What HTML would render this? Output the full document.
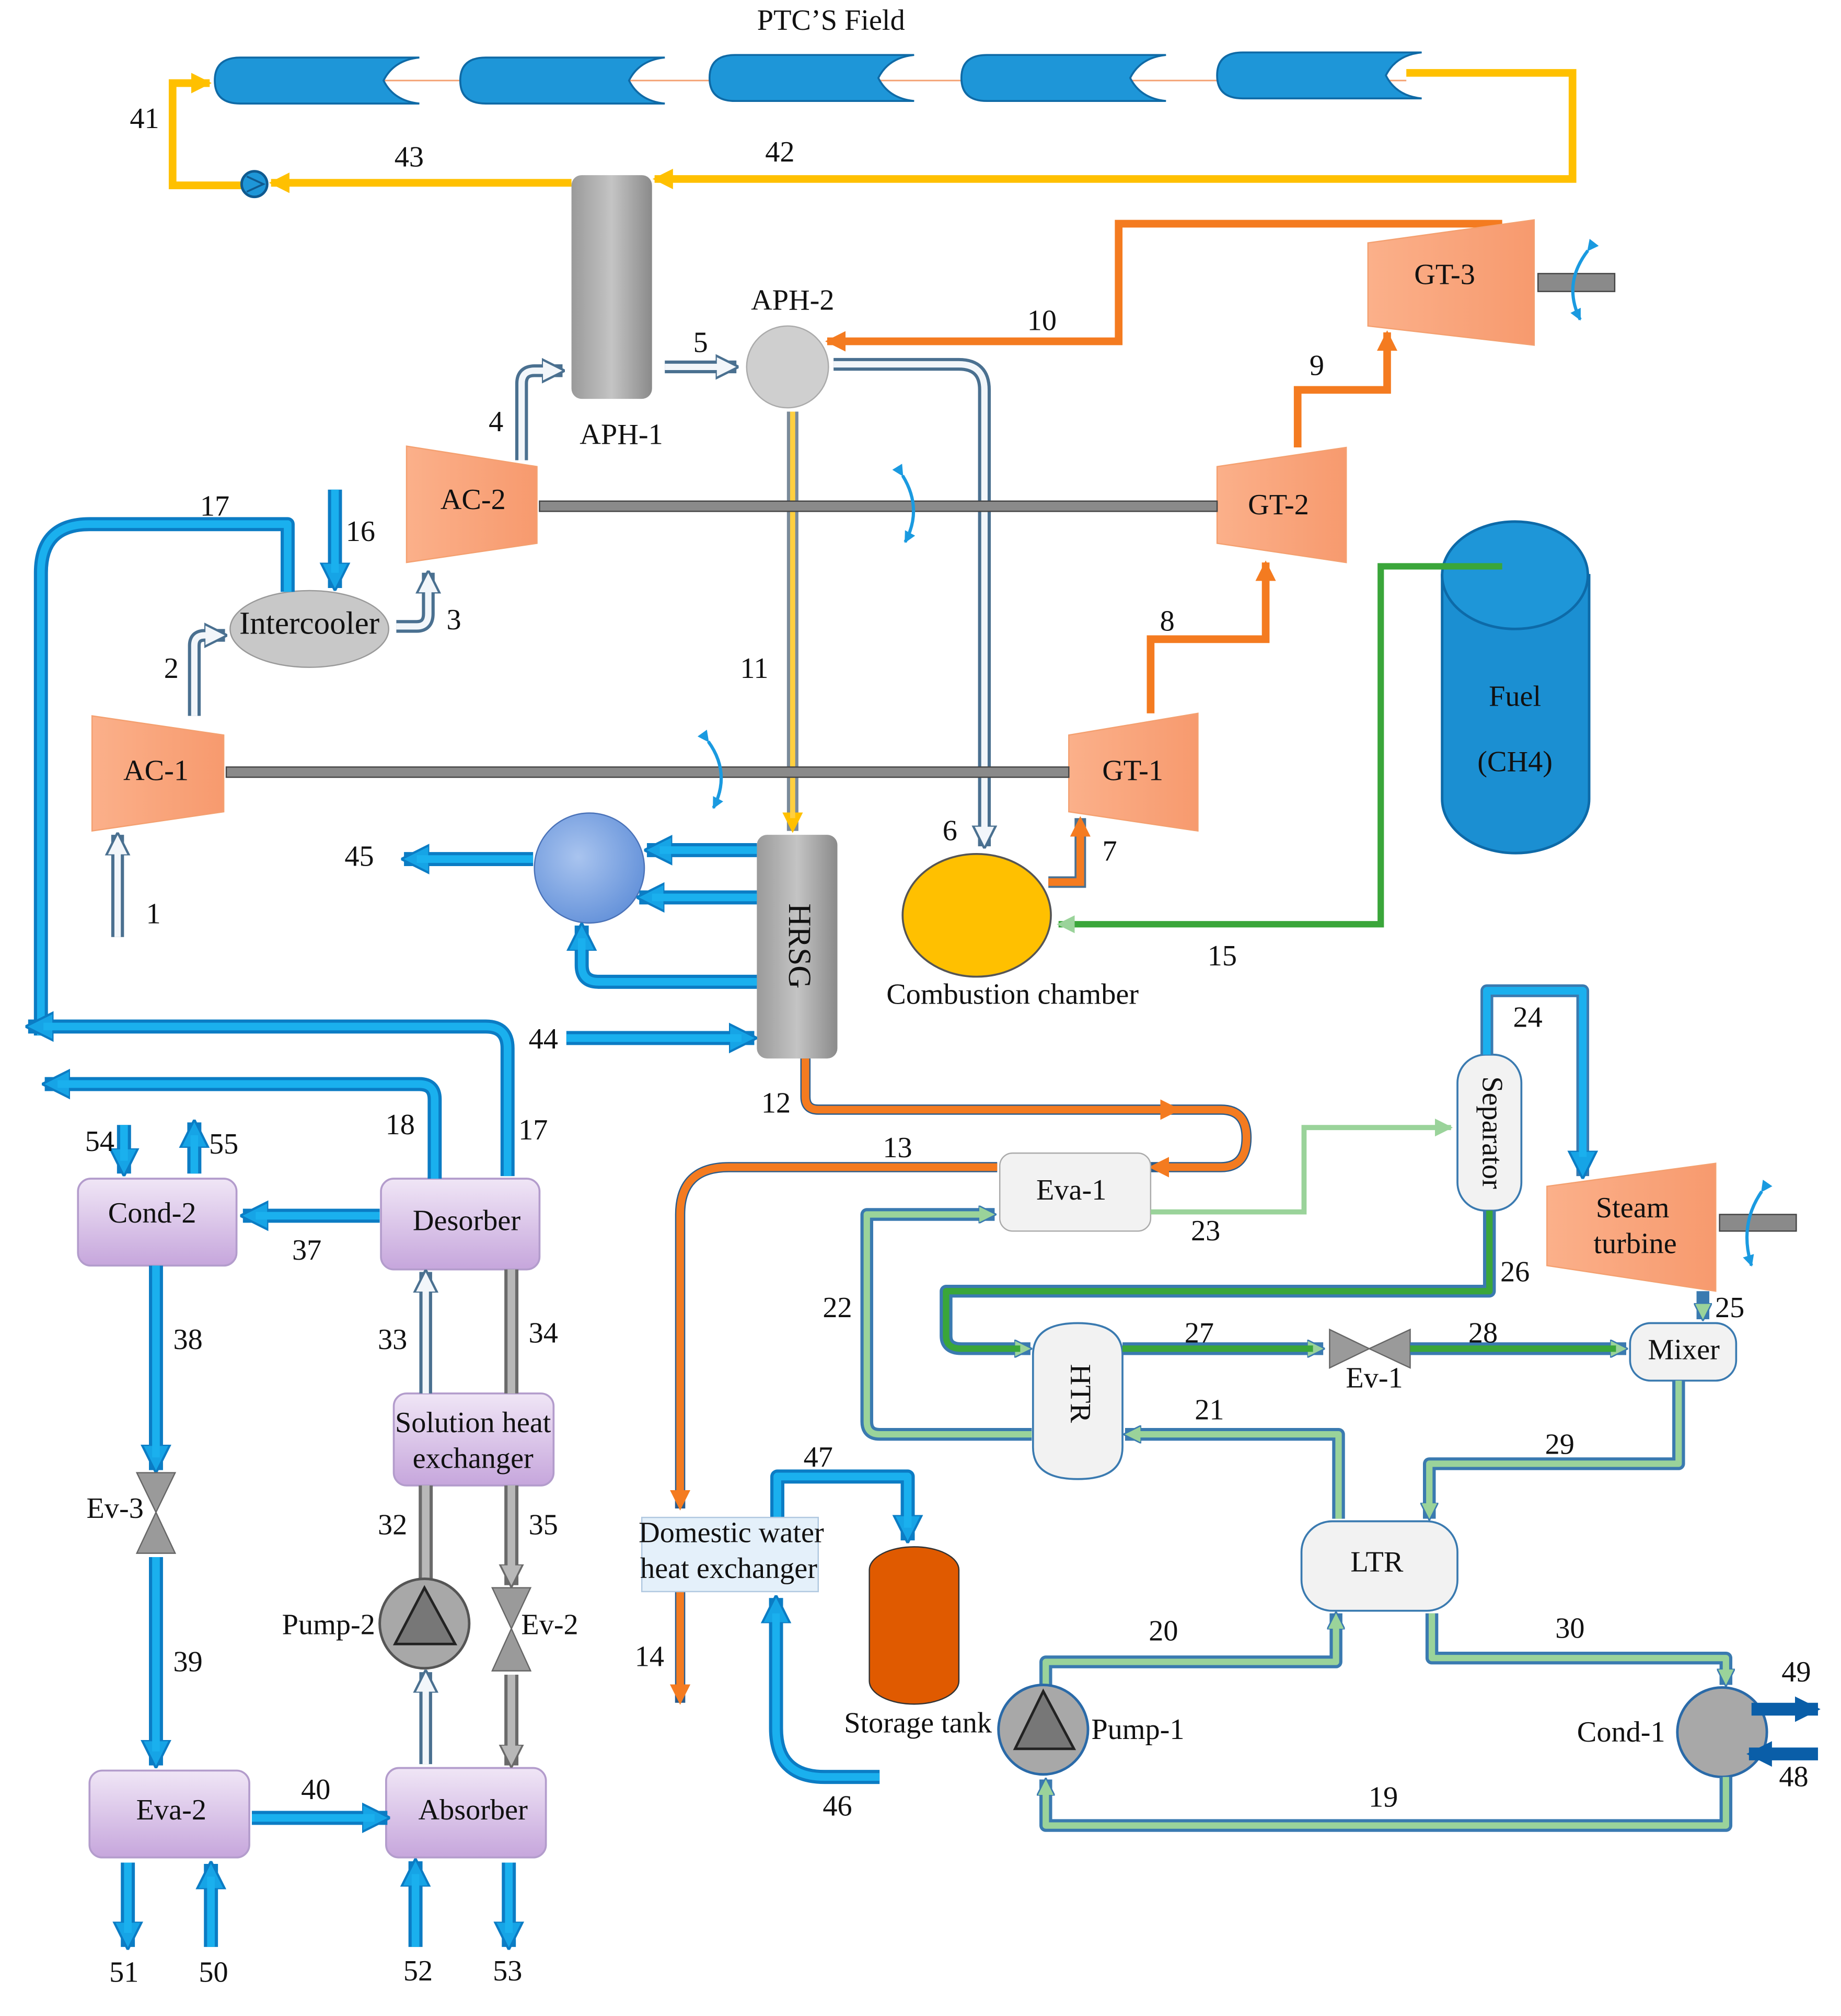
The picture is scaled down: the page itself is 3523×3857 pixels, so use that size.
<!DOCTYPE html>
<html><head><meta charset="utf-8"><style>
html,body{margin:0;padding:0;background:#fff}
svg{display:block}
text{font-family:"Liberation Serif",serif;font-size:23px;fill:#111;text-anchor:middle;dominant-baseline:middle}
.bl{fill:none;stroke:#0b7cc4;stroke-width:11;stroke-linejoin:round}
.bi{fill:none;stroke:#1ab0ee;stroke-width:6;stroke-linejoin:round}
.or{fill:none;stroke:#f47b20;stroke-width:6;stroke-linejoin:miter}
.ye{fill:none;stroke:#ffc000;stroke-width:6}
.ho{fill:none;stroke:#4a7090;stroke-width:10;stroke-linejoin:round}
.hi{fill:none;stroke:#f2f6fa;stroke-width:5;stroke-linejoin:round}
.go{fill:none;stroke:#3a7ab0;stroke-width:10;stroke-linejoin:round}
.gi{fill:none;stroke:#9ad39a;stroke-width:5;stroke-linejoin:round}
.dgi{fill:none;stroke:#3aa63a;stroke-width:5;stroke-linejoin:round}
.gro{fill:none;stroke:#6a6a6a;stroke-width:11}
.gri{fill:none;stroke:#b8b8b8;stroke-width:6}
.box{fill:url(#purp);stroke:#b39ccc;stroke-width:1.5}
</style></head><body>
<svg width="3523" height="3857" viewBox="0 0 1440 1577" preserveAspectRatio="none" xmlns="http://www.w3.org/2000/svg">
<defs>
<linearGradient id="purp" x1="0" y1="0" x2="0" y2="1"><stop offset="0" stop-color="#f0e6f6"/><stop offset="1" stop-color="#c6a6dc"/></linearGradient>
<linearGradient id="gray" x1="0" y1="0" x2="1" y2="0"><stop offset="0" stop-color="#9a9a9a"/><stop offset=".5" stop-color="#c4c4c4"/><stop offset="1" stop-color="#8a8a8a"/></linearGradient>
<linearGradient id="orgr" x1="0" y1="0" x2="1" y2="0"><stop offset="0" stop-color="#fbb08a"/><stop offset="1" stop-color="#f79a6e"/></linearGradient>
<radialGradient id="hx" cx=".4" cy=".4" r=".7"><stop offset="0" stop-color="#a9c4ef"/><stop offset="1" stop-color="#5f8ed8"/></radialGradient>
<marker id="aB" viewBox="0 0 10 10" refX="9" refY="5" markerWidth="22" markerHeight="24" markerUnits="userSpaceOnUse" orient="auto"><path d="M0,0L10,5L0,10z" fill="#16a4e6" stroke="#0b7cc4" stroke-width=".8"/></marker>
<marker id="aO" viewBox="0 0 10 10" refX="9" refY="5" markerWidth="16" markerHeight="16" markerUnits="userSpaceOnUse" orient="auto"><path d="M0,0L10,5L0,10z" fill="#f47b20"/></marker>
<marker id="aY" viewBox="0 0 10 10" refX="9" refY="5" markerWidth="16" markerHeight="16" markerUnits="userSpaceOnUse" orient="auto"><path d="M0,0L10,5L0,10z" fill="#ffc000"/></marker>
<marker id="aG" viewBox="0 0 10 10" refX="9" refY="5" markerWidth="14" markerHeight="14" markerUnits="userSpaceOnUse" orient="auto"><path d="M0,0L10,5L0,10z" fill="#9ad39a" stroke="#3a7ab0" stroke-width=".8"/></marker>
<marker id="aLG" viewBox="0 0 10 10" refX="9" refY="5" markerWidth="14" markerHeight="14" markerUnits="userSpaceOnUse" orient="auto"><path d="M0,0L10,5L0,10z" fill="#9ad39a"/></marker>
<marker id="aGr" viewBox="0 0 10 10" refX="9" refY="5" markerWidth="18" markerHeight="22" markerUnits="userSpaceOnUse" orient="auto"><path d="M0,0L10,5L0,10z" fill="#b8b8b8" stroke="#6a6a6a" stroke-width=".8"/></marker>
<marker id="aH" viewBox="0 0 10 10" refX="9" refY="5" markerWidth="18" markerHeight="20" markerUnits="userSpaceOnUse" orient="auto"><path d="M0,0L10,5L0,10z" fill="#f2f6fa" stroke="#4a7090" stroke-width="1"/></marker>
<marker id="aS" viewBox="0 0 10 10" refX="9" refY="5" markerWidth="9" markerHeight="9" markerUnits="userSpaceOnUse" orient="auto"><path d="M0,0L10,5L0,10z" fill="#1a9ae0"/></marker>
<marker id="aDB" viewBox="0 0 10 10" refX="9" refY="5" markerWidth="20" markerHeight="22" markerUnits="userSpaceOnUse" orient="auto"><path d="M0,0L10,5L0,10z" fill="#0a5ea8"/></marker>
<g id="ptc"><path d="M20,0 L160,0 Q140,2 132,18 Q140,34 160,36 L20,36 Q0,36 0,18 Q0,0 20,0z" fill="#1e96d8" stroke="#0f6aa6" stroke-width="1.5"/></g>
</defs>

<text x="650" y="18">PTC’S Field</text>
<line x1="300" y1="63" x2="1100" y2="63" stroke="#f4a070" stroke-width="1.2"/>
<use href="#ptc" x="168" y="45"/><use href="#ptc" x="360" y="45"/><use href="#ptc" x="555" y="43"/><use href="#ptc" x="752" y="43"/><use href="#ptc" x="952" y="41"/>
<path class="ye" d="M1100,57 H1230 V140 H512" marker-end="url(#aY)"/>
<path class="ye" d="M447,143 H212" marker-end="url(#aY)" stroke-width="7"/>
<path class="ye" d="M190,145 H135 V65 H164" marker-end="url(#aY)" stroke-width="7"/>
<circle cx="199" cy="144" r="10" fill="#1e96d8" stroke="#0f5a90" stroke-width="2"/>
<path d="M193,138 L206,144 L193,150" fill="none" stroke="#0f5a90" stroke-width="1.5"/>
<text x="113" y="95">41</text><text x="320" y="125">43</text><text x="610" y="121">42</text>

<rect x="447" y="137" width="63" height="175" rx="8" fill="url(#gray)"/>
<text x="486" y="342">APH-1</text>
<circle cx="616" cy="287" r="32" fill="#cfcfcf" stroke="#aaa"/>
<text x="620" y="237">APH-2</text>
<path class="ho" d="M520,287 H576" marker-end="url(#aH)"/><path class="hi" d="M520,287 H568"/>
<text x="548" y="270">5</text>
<path class="or" d="M1175,175 H875 V267 H647" marker-end="url(#aO)"/>
<text x="815" y="253">10</text>
<path class="ho" d="M652,285 H750 Q770,285 770,305 V662" marker-end="url(#aH)"/><path class="hi" d="M652,285 H750 Q770,285 770,305 V652"/>
<text x="743" y="652">6</text>
<path d="M620,322 V650" fill="none" stroke="#7a8a9a" stroke-width="9" marker-end="url(#aY)"/><path d="M620,322 V640" fill="none" stroke="#ffd040" stroke-width="4"/>
<text x="590" y="525">11</text>

<path d="M1070,190 L1200,172 L1200,270 L1070,255z" fill="url(#orgr)" stroke="#f4a070"/>
<text x="1130" y="217">GT-3</text>
<rect x="1203" y="214" width="60" height="14" fill="#8a8a8a" stroke="#444"/>
<path d="M1242,196 Q1222,222 1236,250" fill="none" stroke="#1a9ae0" stroke-width="2.5" marker-start="url(#aS)" marker-end="url(#aS)"/>
<path d="M952,365 L1053,350 L1053,440 L952,425z" fill="url(#orgr)" stroke="#f4a070"/>
<text x="1000" y="397">GT-2</text>
<path d="M318,349 L420,365 L420,425 L318,440z" fill="url(#orgr)" stroke="#f4a070"/>
<text x="370" y="393">AC-2</text>
<rect x="422" y="392" width="530" height="8" fill="#8a8a8a" stroke="#444"/>
<path d="M706,372 Q722,398 708,424" fill="none" stroke="#1a9ae0" stroke-width="2.5" marker-start="url(#aS)" marker-end="url(#aS)"/>
<path d="M72,560 L175,575 L175,635 L72,650z" fill="url(#orgr)" stroke="#f4a070"/>
<text x="122" y="605">AC-1</text>
<path d="M836,575 L937,558 L937,650 L836,635z" fill="url(#orgr)" stroke="#f4a070"/>
<text x="886" y="605">GT-1</text>
<rect x="177" y="600" width="659" height="8" fill="#8a8a8a" stroke="#444"/>
<path d="M554,580 Q572,605 558,632" fill="none" stroke="#1a9ae0" stroke-width="2.5" marker-start="url(#aS)" marker-end="url(#aS)"/>
<path class="or" d="M1015,350 V305 H1085 V260" marker-end="url(#aO)"/><text x="1030" y="288">9</text>
<path class="or" d="M900,558 V500 H990 V440" marker-end="url(#aO)"/><text x="913" y="488">8</text>
<path d="M820,690 H845 V640" fill="none" stroke="#4a7090" stroke-width="9" marker-end="url(#aO)"/><path class="or" d="M820,690 H845 V648" stroke-width="4"/>
<text x="868" y="668">7</text>

<ellipse cx="764" cy="716" rx="58" ry="48" fill="#ffc000" stroke="#555" stroke-width="1.5"/>
<text x="792" y="780">Combustion chamber</text>
<path d="M1128,450 V625 A57,42 0 0 0 1243,625 V450z" fill="#1b8fd2" stroke="#0d6aa8" stroke-width="2"/>
<ellipse cx="1185" cy="450" rx="57" ry="42" fill="#1e96d8" stroke="#0d6aa8" stroke-width="2"/>
<text x="1185" y="547">Fuel</text><text x="1185" y="598">(CH4)</text>
<path d="M1175,443 H1080 V723 H828" fill="none" stroke="#3aa63a" stroke-width="5" marker-end="url(#aLG)"/>
<text x="956" y="750">15</text>

<path class="ho" d="M408,360 V300 Q408,290 418,290 H440" marker-end="url(#aH)"/><path class="hi" d="M408,360 V300 Q408,290 418,290 H432"/>
<text x="388" y="332">4</text>
<ellipse cx="242" cy="492" rx="62" ry="30" fill="#c8c8c8" stroke="#999"/>
<text x="242" y="490" style="font-size:25px">Intercooler</text>
<path class="ho" d="M310,490 H326 Q335,490 335,480 V448" marker-end="url(#aH)"/><path class="hi" d="M310,490 H326 Q335,490 335,480 V456"/>
<text x="355" y="487">3</text>
<path class="ho" d="M152,560 V505 Q152,497 160,497 H176" marker-end="url(#aH)"/><path class="hi" d="M152,560 V505 Q152,497 160,497 H168"/>
<text x="134" y="525">2</text>
<path class="ho" d="M92,733 V653" marker-end="url(#aH)"/><path class="hi" d="M92,733 V661"/>
<text x="120" y="717">1</text>
<path class="bl" d="M262,383 V460" marker-end="url(#aB)"/><path class="bi" d="M262,383 V448"/>
<text x="282" y="418">16</text>
<path class="bl" d="M225,463 V410 H70 Q32,410 32,448 V810"/><path class="bi" d="M225,463 V410 H70 Q32,410 32,448 V810"/>
<text x="168" y="398">17</text>
<path class="bl" d="M397,920 V820 Q397,803 380,803 H22" marker-end="url(#aB)"/><path class="bi" d="M397,920 V820 Q397,803 380,803 H34"/>
<text x="417" y="886">17</text>

<rect x="592" y="653" width="63" height="175" rx="8" fill="url(#gray)"/>
<text transform="translate(623,740) rotate(90)" style="font-size:25px">HRSG</text>
<circle cx="461" cy="679" r="43" fill="url(#hx)" stroke="#4a72b8"/>
<path class="bl" d="M592,665 H506" marker-end="url(#aB)"/><path class="bi" d="M592,665 H516"/>
<path class="bl" d="M592,702 H500" marker-end="url(#aB)"/><path class="bi" d="M592,702 H510"/>
<path class="bl" d="M592,768 H468 Q455,768 455,755 V724" marker-end="url(#aB)"/><path class="bi" d="M592,768 H468 Q455,768 455,755 V734"/>
<path class="bl" d="M417,672 H316" marker-end="url(#aB)"/><path class="bi" d="M417,672 H326"/>
<text x="281" y="672">45</text>
<path class="bl" d="M443,812 H590" marker-end="url(#aB)"/><path class="bi" d="M443,812 H580"/>
<text x="425" y="815">44</text>
<path d="M630,828 V858 Q630,868 640,868 H955 Q975,868 975,890 Q975,913 955,913 H900" fill="none" stroke="#2a5c8c" stroke-width="8" marker-end="url(#aO)"/>
<path class="or" d="M630,828 V858 Q630,868 640,868 H955 Q975,868 975,890 Q975,913 955,913 H908" stroke-width="4"/>
<path d="M880,868 H922" fill="none" stroke="none" marker-end="url(#aO)"/>
<text x="607" y="865">12</text>
<path d="M780,913 H570 Q532,913 532,950 V1180" fill="none" stroke="#2a5c8c" stroke-width="8" marker-end="url(#aO)"/>
<path class="or" d="M780,913 H570 Q532,913 532,950 V1170" stroke-width="4"/>
<text x="702" y="900">13</text>
<path d="M532,1245 V1332" fill="none" stroke="#2a5c8c" stroke-width="8" marker-end="url(#aO)"/><path class="or" d="M532,1245 V1322" stroke-width="4"/>
<text x="508" y="1298">14</text>

<rect x="782" y="902" width="118" height="61" rx="10" fill="#f2f2f2" stroke="#aaa"/>
<text x="838" y="933">Eva-1</text>
<path d="M900,948 H1020 V882 H1135" fill="none" stroke="#9ad39a" stroke-width="4" marker-end="url(#aLG)"/>
<text x="943" y="965">23</text>
<path class="go" d="M807,1122 H688 Q678,1122 678,1112 V950 H778" marker-end="url(#aG)"/><path class="gi" d="M807,1122 H688 Q678,1122 678,1112 V950 H770"/>
<text x="655" y="1025">22</text>
<rect x="1140" y="825" width="50" height="122" rx="22" fill="#f2f2f2" stroke="#3a7ab0" stroke-width="1.5"/>
<text transform="translate(1165,886) rotate(90)">Separator</text>
<path class="go" d="M1163,825 V775 H1238 V920" marker-end="url(#aB)"/><path class="bi" d="M1163,825 V775 H1238 V905" stroke="#2a8ad0"/>
<text x="1195" y="798">24</text>
<path d="M1210,928 L1342,910 L1342,1010 L1210,990z" fill="url(#orgr)" stroke="#f4a070"/>
<text x="1277" y="947">Steam</text><text x="1279" y="975">turbine</text>
<rect x="1345" y="950" width="60" height="13" fill="#8a8a8a" stroke="#444"/>
<path d="M1378,932 Q1360,958 1370,990" fill="none" stroke="#1a9ae0" stroke-width="2.5" marker-start="url(#aS)" marker-end="url(#aS)"/>
<path class="go" d="M1165,947 V1010 H740 V1045 Q740,1055 752,1055 H806" marker-end="url(#aG)"/><path class="dgi" d="M1165,947 V1010 H740 V1045 Q740,1055 752,1055 H798"/>
<text x="1185" y="997">26</text>
<path class="go" d="M1332,1010 V1032" marker-end="url(#aG)"/><text x="1353" y="1025">25</text>
<path d="M808,1060 Q808,1035 843,1035 Q878,1035 878,1060 V1132 Q878,1157 843,1157 Q808,1157 808,1132z" fill="#f2f2f2" stroke="#3a7ab0" stroke-width="1.5"/>
<text transform="translate(843,1090) rotate(90)">HTR</text>
<path class="go" d="M878,1055 H1035" marker-end="url(#aG)"/><path class="dgi" d="M878,1055 H1027"/>
<text x="938" y="1045">27</text>
<path d="M1040,1040 L1071,1055 L1040,1070z M1103,1040 L1071,1055 L1103,1070z" fill="#9a9a9a" stroke="#666"/>
<text x="1075" y="1080">Ev-1</text>
<path class="go" d="M1103,1055 H1272" marker-end="url(#aG)"/><path class="dgi" d="M1103,1055 H1264"/>
<text x="1160" y="1045">28</text>
<rect x="1275" y="1035" width="83" height="45" rx="16" fill="#f2f2f2" stroke="#3a7ab0" stroke-width="1.5"/>
<text x="1317" y="1058">Mixer</text>
<path class="go" d="M1313,1080 V1145 H1118 V1188" marker-end="url(#aG)"/><path class="gi" d="M1313,1080 V1145 H1118 V1180"/>
<text x="1220" y="1132">29</text>
<path class="go" d="M1047,1188 V1122 H880" marker-end="url(#aG)"/><path class="gi" d="M1047,1188 V1122 H888"/>
<text x="946" y="1105">21</text>
<rect x="1018" y="1190" width="122" height="70" rx="24" fill="#f2f2f2" stroke="#3a7ab0" stroke-width="1.5"/>
<text x="1077" y="1224">LTR</text>
<path class="go" d="M818,1320 V1300 H1045 V1262" marker-end="url(#aG)"/><path class="gi" d="M818,1320 V1300 H1045 V1270"/>
<text x="910" y="1278">20</text>
<path class="go" d="M1120,1262 V1297 H1350 V1318" marker-end="url(#aG)"/><path class="gi" d="M1120,1262 V1297 H1350 V1310"/>
<text x="1228" y="1276">30</text>
<circle cx="1347" cy="1355" r="35" fill="#a8a8a8" stroke="#2a6aa8" stroke-width="2"/>
<text x="1268" y="1357">Cond-1</text>
<path d="M1370,1337 H1422" fill="none" stroke="#0a5ea8" stroke-width="10" marker-end="url(#aDB)"/>
<path d="M1422,1372 H1368" fill="none" stroke="#0a5ea8" stroke-width="10" marker-end="url(#aDB)"/>
<text x="1405" y="1310">49</text><text x="1403" y="1392">48</text>
<path class="go" d="M1350,1390 V1428 H818 V1392" marker-end="url(#aG)"/><path class="gi" d="M1350,1390 V1428 H818 V1400"/>
<text x="1082" y="1408">19</text>
<circle cx="816" cy="1353" r="35" fill="#a8a8a8" stroke="#2a6aa8" stroke-width="2"/>
<path d="M794,1368 L816,1323 L840,1368z" fill="#777" stroke="#222" stroke-width="2"/>
<text x="890" y="1355">Pump-1</text>

<path class="bl" d="M608,1187 V1155 H710 V1205" marker-end="url(#aB)"/><path class="bi" d="M608,1187 V1155 H710 V1195"/>
<text x="640" y="1142">47</text>
<rect x="502" y="1187" width="138" height="58" fill="#e4f0fa" stroke="#b0c8e0"/>
<text x="572" y="1201">Domestic water</text><text x="570" y="1229">heat exchanger</text>
<path d="M680,1228 V1315 A35,18 0 0 0 750,1315 V1228 A35,18 0 0 0 680,1228z" fill="#e05a00" stroke="#333"/>
<text x="718" y="1350">Storage tank</text>
<path class="bl" d="M688,1390 H645 Q607,1390 607,1352 V1250" marker-end="url(#aB)"/><path class="bi" d="M688,1390 H645 Q607,1390 607,1352 V1262"/>
<text x="655" y="1415">46</text>

<rect x="298" y="922" width="124" height="71" rx="10" class="box"/><text x="365" y="957">Desorber</text>
<rect x="61" y="922" width="124" height="68" rx="10" class="box"/><text x="119" y="951">Cond-2</text>
<rect x="308" y="1090" width="125" height="72" rx="10" class="box"/><text x="370" y="1115">Solution heat</text><text x="370" y="1143">exchanger</text>
<rect x="302" y="1383" width="125" height="70" rx="10" class="box"/><text x="370" y="1418">Absorber</text>
<rect x="70" y="1385" width="125" height="68" rx="10" class="box"/><text x="134" y="1418">Eva-2</text>
<path class="bl" d="M297,951 H190" marker-end="url(#aB)"/><path class="bi" d="M297,951 H200"/><text x="240" y="980">37</text>
<path class="bl" d="M340,922 V860 Q340,848 328,848 H35" marker-end="url(#aB)"/><path class="bi" d="M340,922 V860 Q340,848 328,848 H45"/><text x="313" y="882">18</text>
<path class="bl" d="M97,880 V918" marker-end="url(#aB)"/><path class="bi" d="M97,880 V908"/><text x="78" y="895">54</text>
<path class="bl" d="M152,918 V878" marker-end="url(#aB)"/><path class="bi" d="M152,918 V888"/><text x="175" y="897">55</text>
<path class="bl" d="M122,990 V1150" marker-end="url(#aB)"/><path class="bi" d="M122,990 V1140"/><text x="147" y="1050">38</text>
<path d="M107,1152 L137,1152 L122,1183z M107,1215 L137,1215 L122,1183z" fill="#9a9a9a" stroke="#666"/>
<text x="90" y="1182">Ev-3</text>
<path class="bl" d="M122,1218 V1381" marker-end="url(#aB)"/><path class="bi" d="M122,1218 V1370"/><text x="147" y="1302">39</text>
<path class="bl" d="M197,1422 H303" marker-end="url(#aB)"/><path class="bi" d="M197,1422 H293"/><text x="247" y="1402">40</text>
<path class="bl" d="M100,1457 V1523" marker-end="url(#aB)"/><path class="bi" d="M100,1457 V1512"/>
<path class="bl" d="M165,1523 V1458" marker-end="url(#aB)"/><path class="bi" d="M165,1523 V1468"/>
<path class="bl" d="M325,1523 V1456" marker-end="url(#aB)"/><path class="bi" d="M325,1523 V1466"/>
<path class="bl" d="M398,1457 V1523" marker-end="url(#aB)"/><path class="bi" d="M398,1457 V1512"/>
<text x="97" y="1545">51</text><text x="167" y="1545">50</text><text x="327" y="1544">52</text><text x="397" y="1544">53</text>
<path class="ho" d="M333,1090 V995" marker-end="url(#aH)" stroke="#7a7a7a"/><path class="hi" d="M333,1090 V1005" stroke="#d8d8d8"/><text x="307" y="1050">33</text>
<path class="gro" d="M400,993 V1090"/><path class="gri" d="M400,993 V1090"/><text x="425" y="1045">34</text>
<path class="gro" d="M333,1162 V1237"/><path class="gri" d="M333,1162 V1237"/><text x="307" y="1195">32</text>
<circle cx="332" cy="1270" r="35" fill="#a8a8a8" stroke="#555" stroke-width="2"/>
<path d="M309,1286 L332,1242 L356,1286z" fill="#777" stroke="#222" stroke-width="2"/>
<text x="257" y="1273">Pump-2</text>
<path class="ho" d="M333,1380 V1308" marker-end="url(#aH)" stroke="#7a7a7a"/><path class="hi" d="M333,1380 V1318" stroke="#d8d8d8"/>
<path class="gro" d="M400,1162 V1240" marker-end="url(#aGr)"/><path class="gri" d="M400,1162 V1228"/><text x="425" y="1195">35</text>
<path d="M385,1242 L415,1242 L400,1274z M385,1307 L415,1307 L400,1274z" fill="#9a9a9a" stroke="#666"/>
<text x="430" y="1273">Ev-2</text>
<path class="gro" d="M400,1310 V1381" marker-end="url(#aGr)"/><path class="gri" d="M400,1310 V1370"/>
</svg>
</body></html>
